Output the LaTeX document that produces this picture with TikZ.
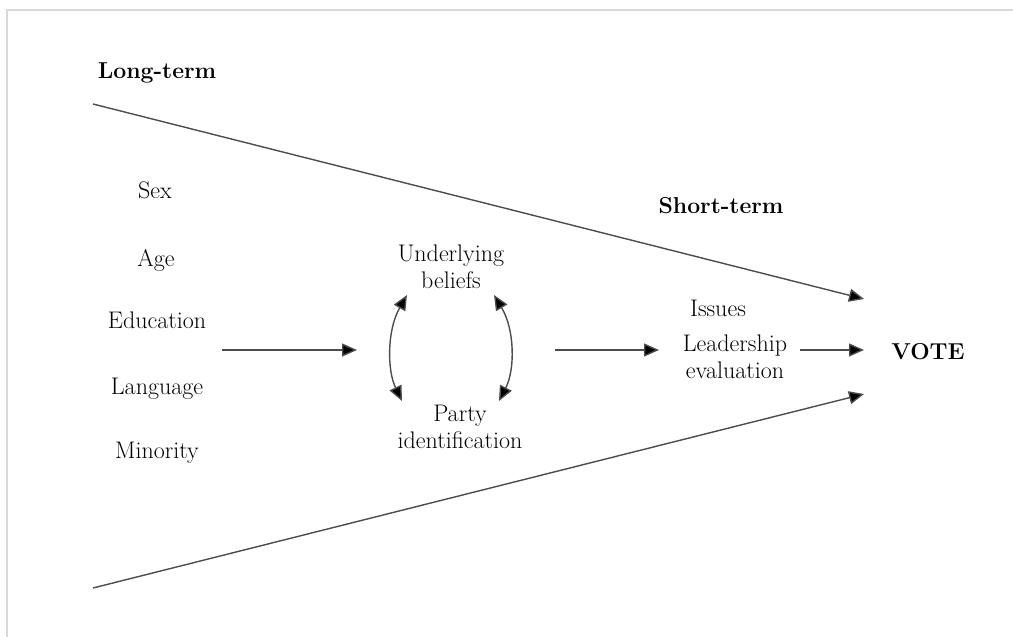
\documentclass[tikz,border=0pt]{standalone}
\usetikzlibrary{arrows.meta}
\begin{document}
\begin{tikzpicture}[x=1pt,y=-1pt,
  lbl/.style={font=\fontsize{24}{27}\selectfont, align=center, inner sep=0pt, text=black},
  hdr/.style={font=\fontsize{23}{27}\selectfont\bfseries, inner sep=0pt},
  tip/.style={},
  conn/.style={line width=1.4pt, draw=black!70, -{Triangle[length=15pt,width=13pt,fill=black]}},
  dconn/.style={line width=1.4pt, draw=black!70, {Triangle[length=15pt,width=13pt,fill=black]}-{Triangle[length=15pt,width=13pt,fill=black]}},
  frame/.style={line width=2pt, draw=black!15}]
\useasboundingbox (0,0) rectangle (1013,637);
\draw[frame] (7,637) -- (7,10) -- (1013,10);
% headers
\node[hdr] (long) at (157,73) {Long-term};
\node[hdr] (short) at (721,206) {Short-term};
\node[hdr] (vote) at (928,352) {VOTE};
% left list
\node[lbl] (sex) at (155,190) {Sex};
\node[lbl] (age) at (156,260) {Age};
\node[lbl] (edu) at (157,320) {Education};
\node[lbl] (lang) at (157,389) {Language};
\node[lbl] (min) at (157,453) {Minority};
% middle
\node[lbl] (ub) at (451,267) {Underlying\\beliefs};
\node[lbl] (pi) at (460,427) {Party\\identification};
% right
\node[lbl] (iss) at (718,308) {Issues};
\node[lbl] (lead) at (735,357) {Leadership\\evaluation};
% funnel lines
\coordinate (t0) at (93,104);
\coordinate (t1) at (864,299);
\coordinate (b0) at (93,588);
\coordinate (b1) at (864,394);
\draw[conn] (t0) -- (t1);
\draw[conn] (b0) -- (b1);
% horizontal arrows
\coordinate (a0) at (222,350);
\coordinate (a1) at (357,350);
\coordinate (c0) at (555,350);
\coordinate (c1) at (659,350);
\coordinate (d0) at (800,350);
\coordinate (d1) at (864,350);
\draw[conn] (a0) -- (a1);
\draw[conn] (c0) -- (c1);
\draw[conn] (d0) -- (d1);
% curved double arrows
\coordinate (l0) at (407,295);
\coordinate (l1) at (402,401);
\coordinate (r0) at (494,295);
\coordinate (r1) at (499,401);
\draw[dconn] (l0) .. controls (387,330) and (387,370) .. (l1);
\draw[dconn] (r0) .. controls (515,330) and (515,370) .. (r1);
\end{tikzpicture}
\end{document}
